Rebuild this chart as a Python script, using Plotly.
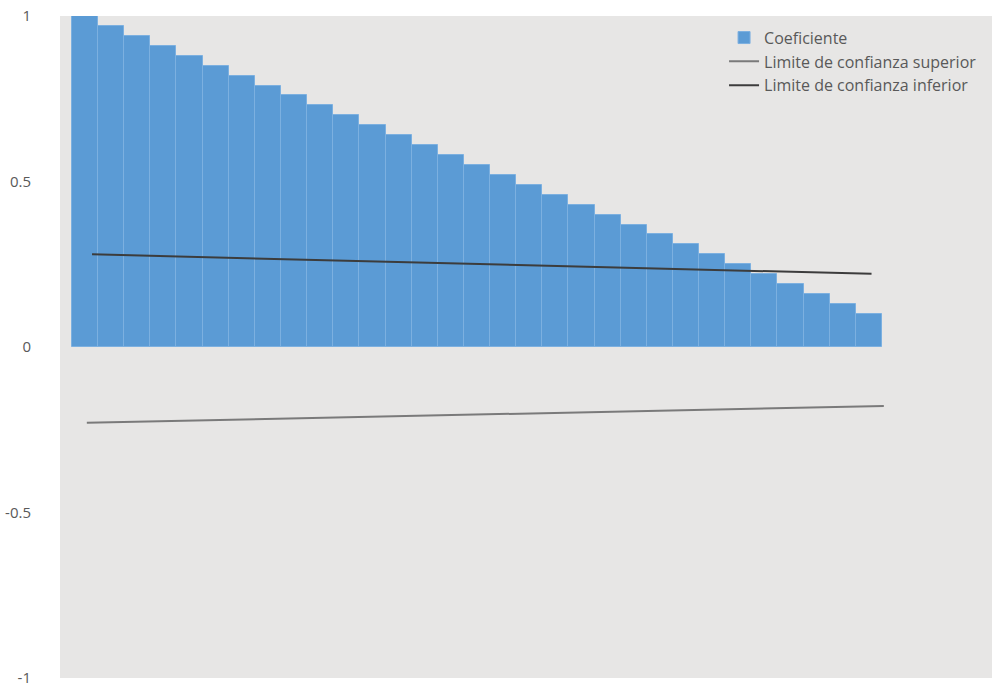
import plotly.graph_objects as go

lags = list(range(31))
coef = [1.00, 0.97, 0.94, 0.91, 0.88, 0.85, 0.82, 0.79, 0.76, 0.73, 0.70,
        0.67, 0.64, 0.61, 0.58, 0.55, 0.52, 0.49, 0.46, 0.43, 0.40, 0.37,
        0.34, 0.31, 0.28, 0.25, 0.22, 0.19, 0.16, 0.13, 0.10]

upper_x = [0.27, 30.1]
upper_y = [0.28, 0.221]
lower_x = [0.07, 30.57]
lower_y = [-0.229, -0.178]

y_ticks = [1, 0.5, 0, -0.5, -1]
y_labels = ["1", "0.5", "0", "-0.5", "-1"]

fig = go.Figure()
fig.add_trace(go.Bar(
    x=lags, y=coef, name="Coeficiente",
    marker=dict(color="#5b9bd5", line=dict(color="#7cb0e0", width=1)),
    width=1,
))
fig.add_trace(go.Scatter(
    x=lower_x, y=lower_y, mode="lines", name="Limite de confianza superior",
    line=dict(color="#7a7a7a", width=2),
))
fig.add_trace(go.Scatter(
    x=upper_x, y=upper_y, mode="lines", name="Limite de confianza inferior",
    line=dict(color="#3c3c3c", width=2),
))

fig.update_layout(
    width=992, height=692,
    margin=dict(l=60, r=0, t=16, b=14),
    paper_bgcolor="white",
    plot_bgcolor="#e7e6e5",
    bargap=0,
    font=dict(family="Open Sans", color="#595959", size=15),
    showlegend=True,
    legend=dict(
        x=0.7125, y=0.993, xanchor="left", yanchor="top",
        bgcolor="rgba(0,0,0,0)", font=dict(size=16, color="#595959"),
        traceorder="normal",
    ),
    xaxis=dict(range=[-0.957, 34.71], showticklabels=False, showgrid=False,
               zeroline=False, ticks=""),
    yaxis=dict(range=[-1, 1], tickvals=y_ticks, ticktext=y_labels,
               showgrid=False, zeroline=False, ticks="",
               ticklabelstandoff=28, ticklabeloverflow="allow",
               tickfont=dict(size=15, color="#595959")),
)

fig.write_html(
    "out.html",
    config={"displayModeBar": False},
    post_script="document.body.style.margin='0';document.body.style.overflow='hidden';",
)
